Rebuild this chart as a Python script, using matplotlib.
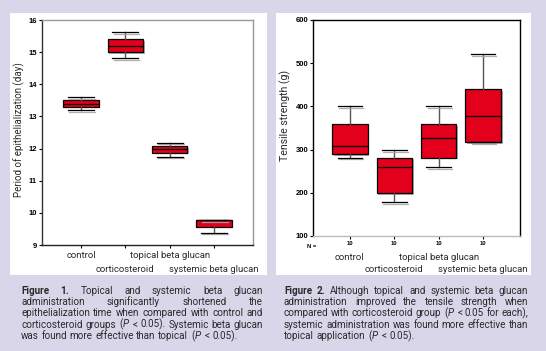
import matplotlib
matplotlib.use('Agg')
from matplotlib import pyplot as plt
from matplotlib.patches import Rectangle
import matplotlib.patheffects as pe

# Дані: тривалість епітелізації (дні)
groups = ['control', 'corticosteroid', 'topical beta glucan', 'systemic beta glucan']
epi_q1 = [13.3, 15.0, 11.87, 9.57]
epi_med = [13.4, 15.2, 11.99, 9.77]
epi_q3 = [13.51, 15.41, 12.08, 9.77]
epi_lo = [13.2, 14.81, 11.75, 9.38]
epi_hi = [13.6, 15.62, 12.18, 9.77]
epi_ticks = [9, 10, 11, 12, 13, 14, 15, 16]

# Дані: міцність на розрив (г)
ts_q1 = [289, 199, 281, 317]
ts_med = [308, 260, 328, 377]
ts_q3 = [359, 281, 359, 440]
ts_lo = [281, 178, 260, 317]
ts_hi = [400, 299, 400, 521]
ts_ticks = [100, 200, 300, 400, 500, 600]
ts_n = [10, 10, 10, 10]

# Підписи
cap1 = ['Figure 1. Topical and systemic beta glucan',
        'administration significantly shortened the',
        'epithelialization time when compared with control and',
        r'corticosteroid groups ($\it{P}$ < 0.05). Systemic beta glucan',
        r'was found more effective than topical ($\it{P}$ < 0.05).']
cap2 = ['Figure 2. Although topical and systemic beta glucan',
        'administration improved the tensile strength when',
        r'compared with corticosteroid group ($\it{P}$ < 0.05 for each),',
        'systemic administration was found more effective than',
        r'topical application ($\it{P}$ < 0.05).']

W, H = 546, 351
RED = '#e2001a'
BG = '#d9d6ea'
TXT = '#2a2a2a'

plt.rcParams['font.family'] = ['Roboto', 'DejaVu Sans']
plt.rcParams['mathtext.fontset'] = 'custom'
plt.rcParams['mathtext.rm'] = 'Roboto'
plt.rcParams['mathtext.it'] = 'Roboto:italic'

fig = plt.figure(figsize=(W / 100, H / 100), dpi=100)
fig.patch.set_facecolor(BG)


# Прямокутник у пікселях (від верхнього лівого кута)
def px_rect(x0, y0, x1, y1):
	return [x0 / W, 1 - y1 / H, (x1 - x0) / W, (y1 - y0) / H]


# Білі панелі
for x0, y0, x1, y1 in [(10, 13, 267, 275), (276, 13, 531, 275)]:
	r = px_rect(x0, y0, x1, y1)
	fig.patches.append(Rectangle((r[0], r[1]), r[2], r[3], transform=fig.transFigure,
	                             facecolor='white', edgecolor='none', zorder=-10))


def make_stats(q1, med, q3, lo, hi):
	return [dict(q1=a, med=b, q3=c, whislo=d, whishi=e, fliers=[])
	        for a, b, c, d, e in zip(q1, med, q3, lo, hi)]


def draw_box(ax, stats, capw):
	res = ax.bxp(stats, positions=[1, 2, 3, 4], widths=0.8, patch_artist=True,
	             showfliers=False, capwidths=capw,
	             boxprops=dict(facecolor=RED, edgecolor='black', linewidth=0.9),
	             medianprops=dict(color='black', linewidth=0.9),
	             whiskerprops=dict(color='#555555', linewidth=1.0),
	             capprops=dict(color='black', linewidth=0.9))
	for b in res['boxes']:
		b.set_path_effects([pe.SimplePatchShadow(offset=(1.2, -1.2), shadow_rgbFace='0.65', alpha=0.9),
		                    pe.Normal()])
	for c in res['caps']:
		c.set_path_effects([pe.SimpleLineShadow(offset=(0.8, -1.2), shadow_color='0.65', alpha=0.9),
		                    pe.Normal()])
	return res


def style_axis(ax, spine_cols):
	ax.set_facecolor('white')
	for side, col in spine_cols.items():
		ax.spines[side].set_color(col)
		ax.spines[side].set_linewidth(1.0)
	ax.tick_params(axis='both', direction='out', length=2, width=0.8, pad=1.5)
	for lab in ax.get_yticklabels():
		lab.set_fontfamily(['Liberation Sans', 'DejaVu Sans'])
		lab.set_fontweight('bold')
		lab.set_fontsize(5.5)


# Ліва діаграма
ax1 = fig.add_axes(px_rect(42, 20, 253, 245))
draw_box(ax1, make_stats(epi_q1, epi_med, epi_q3, epi_lo, epi_hi), 0.58)
ax1.set_xlim(0.12, 4.88)
ax1.set_ylim(9, 16)
ax1.set_yticks(epi_ticks)
ax1.set_yticklabels([str(t) for t in epi_ticks])
ax1.set_xticks([1, 2, 3, 4])
ax1.set_xticklabels([])
style_axis(ax1, {'left': '#333333', 'bottom': '#222222', 'top': '#999999', 'right': '#999999'})
fig.text(19 / W, 1 - 130 / H, 'Period of epithelialization (day)', rotation=90,
         ha='center', va='center', fontsize=7.0, color=TXT)

# Права діаграма
ax2 = fig.add_axes(px_rect(313, 20, 520, 236))
draw_box(ax2, make_stats(ts_q1, ts_med, ts_q3, ts_lo, ts_hi), 0.55)
ax2.set_xlim(0.17, 4.83)
ax2.set_ylim(100, 600)
ax2.set_yticks(ts_ticks)
ax2.set_yticklabels([str(t) for t in ts_ticks])
ax2.set_xticks([1, 2, 3, 4])
ax2.set_xticklabels([str(n) for n in ts_n], fontsize=4.2, fontweight='bold',
                    fontfamily=['Liberation Sans', 'DejaVu Sans'])
style_axis(ax2, {'left': 'black', 'bottom': '#bbbbbb', 'top': 'black', 'right': 'black'})
fig.text(312 / W, 1 - 246 / H, 'N =', ha='center', va='center', fontsize=4.2,
         fontweight='bold', fontfamily=['Liberation Sans', 'DejaVu Sans'])
fig.text(285 / W, 1 - 115 / H, 'Tensile strength (g)', rotation=90,
         ha='center', va='center', fontsize=7.6, color=TXT)

# Назви груп у два ряди
for ax, rows in [(ax1, (256, 269)), (ax2, (257, 270))]:
	for i, g in enumerate(groups):
		xd = ax.transData.transform((i + 1, 0))[0]
		y = rows[i % 2]
		fig.text(xd / W, 1 - y / H, g, ha='center', va='center', fontsize=6.8, color=TXT)


# Вирівняний за шириною рядок підпису (по базовій лінії)
def put_line(line, x0, x1, y, justify, bold_words, renderer):
	words = line.split(' ')
	texts = []
	for k, w in enumerate(words):
		t = fig.text(0, 1 - (y + 2.7) / H, w, ha='left', va='baseline', fontsize=7.1, color=TXT,
		             fontweight='bold' if k < bold_words else 'normal')
		texts.append(t)
	widths = [t.get_window_extent(renderer).width for t in texts]
	if justify and len(words) > 1:
		gap = max((x1 - x0 - sum(widths)) / (len(words) - 1), 2.0)
	else:
		gap = 2.6
	x = x0
	for t, wd in zip(texts, widths):
		t.set_x(x / W)
		x += wd + gap


renderer = fig.canvas.get_renderer()
line_y = [291, 302.3, 313.6, 325, 336.3]
for cap, x0, x1 in [(cap1, 21, 263), (cap2, 284, 528)]:
	for k, (line, y) in enumerate(zip(cap, line_y)):
		put_line(line, x0, x1, y, k < len(cap) - 1, 2 if k == 0 else 0, renderer)

fig.savefig('out.png', dpi=100, facecolor=fig.get_facecolor())
